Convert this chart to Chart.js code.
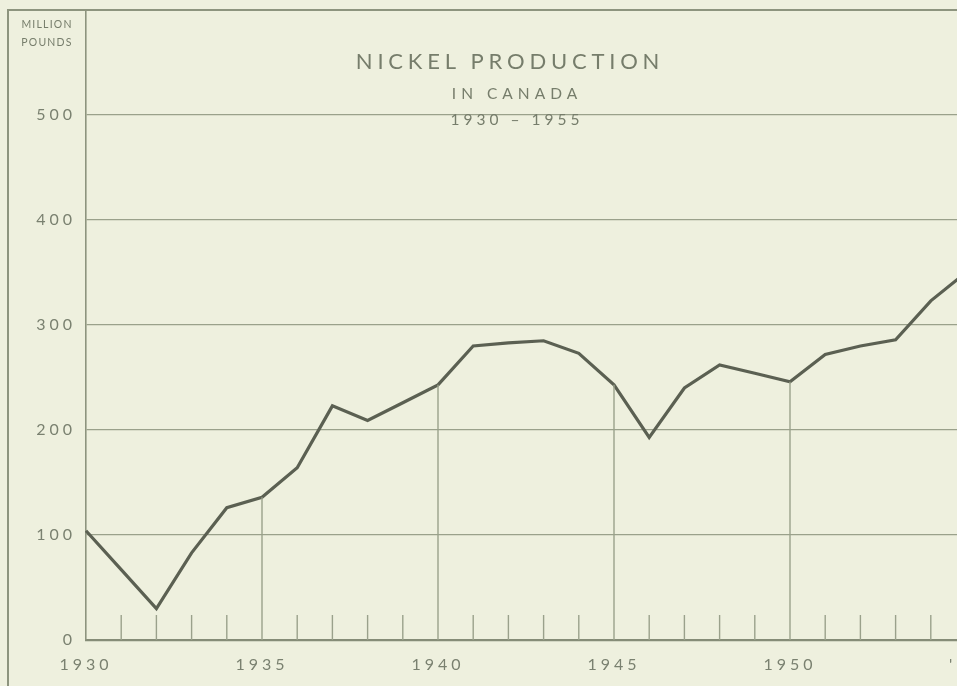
<!DOCTYPE html>
<html>
<head>
<meta charset="utf-8">
<script src="https://cdn.jsdelivr.net/npm/chart.js@4.4.1/dist/chart.umd.min.js"></script>
<style>
  html, body { margin: 0; padding: 0; background: #eef0de; overflow: hidden; width: 957px; height: 686px; }
  #wrap { position: absolute; left: 0; top: 0; width: 1000px; height: 686px; }
  .lbl { position: absolute; font-family: Lato, "Open Sans", sans-serif; color: #767d6b; text-align: center; white-space: nowrap; }
</style>
</head>
<body>
<div id="wrap"><canvas id="c"></canvas></div>
<div class="lbl" style="left:0;width:94px;top:15px;font-size:10.5px;letter-spacing:1.2px;line-height:18px;">MILLION<br>POUNDS</div>
<div class="lbl" style="left:350px;width:320px;top:48px;font-size:22px;letter-spacing:4.8px;line-height:26px;">NICKEL PRODUCTION</div>
<div class="lbl" style="left:417px;width:200px;top:83px;font-size:15.5px;letter-spacing:5px;line-height:20px;">IN CANADA</div>
<div class="lbl" style="left:417px;width:200px;top:109px;font-size:15.5px;letter-spacing:4px;line-height:20px;">1930 – 1955</div>
<script>
const years = [1930,1931,1932,1933,1934,1935,1936,1937,1938,1939,1940,1941,1942,1943,1944,1945,1946,1947,1948,1949,1950,1951,1952,1953,1954,1955];
const nickel = [104,67,30,83,126,136,164,223,209,226,243,280,283,285,273,243,193,240,262,254,246,272,280,286,323,350];
const yTicks = [0,100,200,300,400,500];
const xLabelYears = [1930,1935,1940,1945,1950];

const gridColor = '#9aa18b';
const textColor = '#7a8170';
const lineColor = '#5b6052';

const decor = {
  id: 'decor',
  beforeDraw(chart) {
    chart.ctx.letterSpacing = '4px';
  },
  afterDatasetsDraw(chart) {
    const ctx = chart.ctx;
    const xs = chart.scales.x, ys = chart.scales.y;
    const y0 = ys.getPixelForValue(0);
    ctx.save();
    ctx.strokeStyle = gridColor;
    ctx.lineWidth = 1.4;
    years.forEach((yr, i) => {
      const px = xs.getPixelForValue(yr);
      if (yr % 5 === 0 && yr !== 1930) {
        ctx.beginPath();
        ctx.moveTo(px, ys.getPixelForValue(nickel[i]));
        ctx.lineTo(px, y0);
        ctx.stroke();
      } else if (yr % 5 !== 0) {
        ctx.beginPath();
        ctx.moveTo(px, y0 - 25);
        ctx.lineTo(px, y0);
        ctx.stroke();
      }
    });
    const top = chart.chartArea.top;
    ctx.lineWidth = 2;
    ctx.strokeStyle = '#8d947e';
    ctx.beginPath();
    ctx.moveTo(8, chart.height);
    ctx.lineTo(8, top);
    ctx.lineTo(chart.width, top);
    ctx.stroke();
    ctx.restore();
  }
};

new Chart(document.getElementById('c'), {
  type: 'line',
  data: {
    datasets: [{
      data: years.map((y, i) => ({ x: y, y: nickel[i] })),
      borderColor: lineColor,
      borderWidth: 3.2,
      pointRadius: 0,
      tension: 0,
      borderJoinStyle: 'miter',
      clip: false
    }]
  },
  options: {
    responsive: true,
    maintainAspectRatio: false,
    animation: false,
    devicePixelRatio: 1,
    layout: { padding: { left: 0, right: 34, top: 10, bottom: 0 } },
    plugins: { legend: { display: false }, tooltip: { enabled: false }, title: { display: false } },
    scales: {
      x: {
        type: 'linear',
        min: 1930,
        max: 1955,
        afterFit: (s) => { s.height = 46; },
        grid: { display: false, drawTicks: false },
        border: { display: true, color: '#858c77', width: 2.2 },
        ticks: {
          stepSize: 1,
          autoSkip: false,
          maxRotation: 0,
          padding: 15,
          color: textColor,
          font: { family: 'Lato, "Open Sans", sans-serif', size: 16 },
          callback: (v) => xLabelYears.includes(v) ? String(v) : (v === 1955 ? "'55" : '')
        }
      },
      y: {
        min: 0,
        max: 600,
        afterFit: (s) => { s.width = 86; s.paddingTop = 0; s.paddingBottom = 0; },
        afterBuildTicks: (s) => { s.ticks = yTicks.concat([600]).map(v => ({ value: v })); },
        grid: { color: gridColor, lineWidth: 1.3, drawTicks: false },
        border: { display: true, color: '#8d947e', width: 1.6 },
        ticks: {
          padding: 10,
          color: textColor,
          font: { family: 'Lato, "Open Sans", sans-serif', size: 16 },
          callback: (v) => yTicks.includes(v) ? String(v) : ''
        }
      }
    }
  },
  plugins: [decor]
});
</script>
</body>
</html>
